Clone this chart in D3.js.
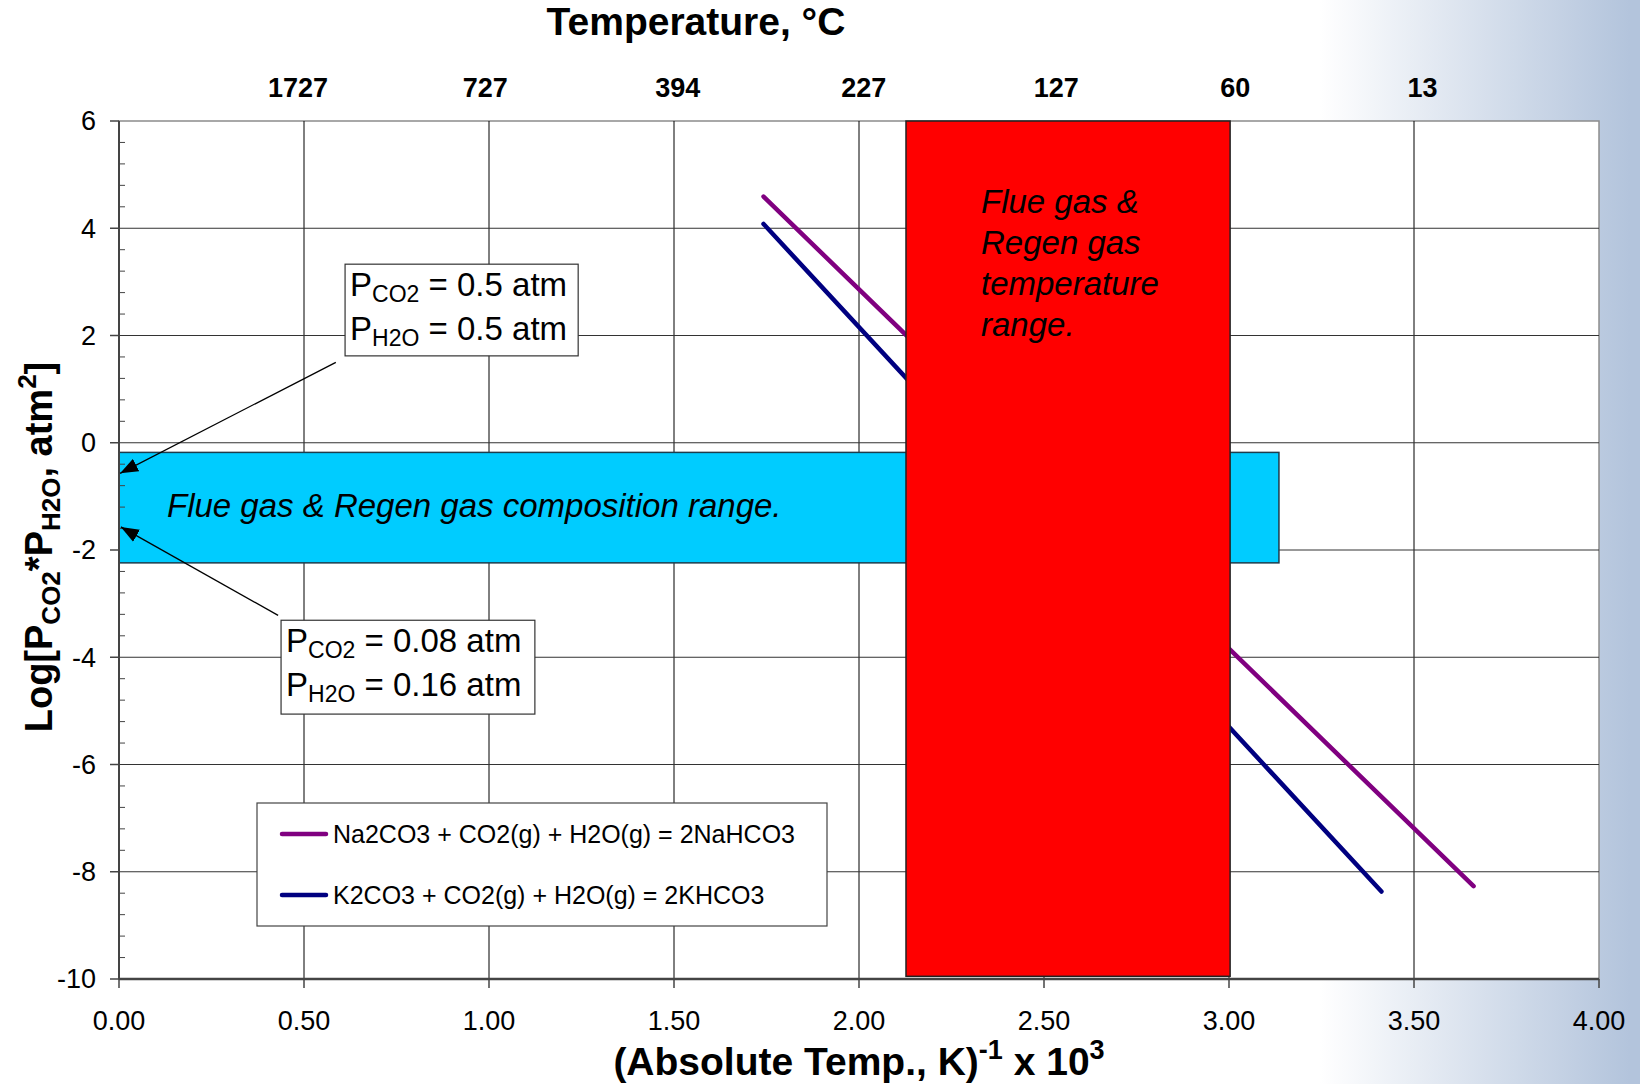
<!DOCTYPE html>
<html>
<head>
<meta charset="utf-8">
<script src="https://cdn.jsdelivr.net/npm/d3@7"></script>
<style>
  html, body { margin: 0; padding: 0; background: #fff; }
  svg { display: block; font-family: "Liberation Sans", Arial, sans-serif; }
</style>
</head>
<body>
<svg id="chart" width="1640" height="1084"></svg>
<script>
// x axis: 1/T (K) x 1000, y axis: log10(PCO2*PH2O)
var xTicks = [0, 0.5, 1, 1.5, 2, 2.5, 3, 3.5, 4];
var yTicks = [-10, -8, -6, -4, -2, 0, 2, 4, 6];

// top axis, temperature in degrees C, with label positions
var tempLabels = ["1727", "727", "394", "227", "127", "60", "13"];
var tempPos = [0.484, 0.99, 1.51, 2.013, 2.533, 3.017, 3.523];

// equilibrium lines (end points)
var seriesNames = ["Na2CO3 + CO2(g) + H2O(g) = 2NaHCO3", "K2CO3 + CO2(g) + H2O(g) = 2KHCO3"];
var seriesColors = ["#800080", "#000080"];
var naLine = [{ x: 1.742, y: 4.59 }, { x: 3.661, y: -8.27 }];
var kLine = [{ x: 1.742, y: 4.08 }, { x: 3.412, y: -8.37 }];

// shaded ranges
var compRange = { x0: 0, x1: 3.135, y0: -0.18, y1: -2.24 };
var tempRange = { x0: 2.127, x1: 3.003, y0: 6, y1: -9.95 };

var width = 1640, height = 1084;
var margin = { left: 119, right: 41, top: 121, bottom: 105 };

var x = d3.scaleLinear().domain([0, 4]).range([margin.left, width - margin.right]);
var y = d3.scaleLinear().domain([-10, 6]).range([height - margin.bottom, margin.top]);

var svg = d3.select("#chart");

// background gradient at the right
var defs = svg.append("defs");
var grad = defs.append("linearGradient")
  .attr("id", "bg")
  .attr("gradientUnits", "userSpaceOnUse")
  .attr("x1", 1320).attr("x2", 1630).attr("y1", 0).attr("y2", 0);
grad.append("stop").attr("offset", 0).attr("stop-color", "#ffffff");
grad.append("stop").attr("offset", 1).attr("stop-color", "#b3c4dc");

svg.append("rect").attr("width", width).attr("height", height).attr("fill", "url(#bg)");

// plot area
svg.append("rect")
  .attr("x", x(0)).attr("y", y(6))
  .attr("width", x(4) - x(0)).attr("height", y(-10) - y(6))
  .attr("fill", "#fff")
  .attr("stroke", "#8c8c8c")
  .attr("stroke-width", 1.5);

// grid
var grid = svg.append("g").attr("class", "grid");
grid.selectAll(".vgrid")
  .data(xTicks.filter(function(d) { return d > 0 && d < 4; }))
  .enter().append("line")
  .attr("x1", function(d) { return x(d); }).attr("x2", function(d) { return x(d); })
  .attr("y1", y(6)).attr("y2", y(-10))
  .attr("stroke", "#000").attr("stroke-width", 1);
grid.selectAll(".hgrid")
  .data(yTicks.filter(function(d) { return d > -10 && d < 6; }))
  .enter().append("line")
  .attr("x1", x(0)).attr("x2", x(4))
  .attr("y1", function(d) { return y(d); }).attr("y2", function(d) { return y(d); })
  .attr("stroke", "#333").attr("stroke-width", 1);

// equilibrium lines
var line = d3.line()
  .x(function(d) { return x(d.x); })
  .y(function(d) { return y(d.y); });

svg.selectAll(".series")
  .data([naLine, kLine])
  .enter().append("path")
  .attr("d", line)
  .attr("fill", "none")
  .attr("stroke", function(d, i) { return seriesColors[i]; })
  .attr("stroke-width", 4.5)
  .attr("stroke-linecap", "round");

// composition range (cyan)
svg.append("rect")
  .attr("x", x(compRange.x0)).attr("y", y(compRange.y0))
  .attr("width", x(compRange.x1) - x(compRange.x0))
  .attr("height", y(compRange.y1) - y(compRange.y0))
  .attr("fill", "#00ccff")
  .attr("stroke", "#1d3d4d").attr("stroke-width", 1.5);

svg.append("text")
  .attr("x", 167).attr("y", 517)
  .attr("font-size", 33).attr("font-style", "italic")
  .text("Flue gas & Regen gas composition range.");

// temperature range (red)
svg.append("rect")
  .attr("x", x(tempRange.x0)).attr("y", y(tempRange.y0))
  .attr("width", x(tempRange.x1) - x(tempRange.x0))
  .attr("height", y(tempRange.y1) - y(tempRange.y0))
  .attr("fill", "#ff0000")
  .attr("stroke", "#222").attr("stroke-width", 1.5);

var redText = svg.append("text")
  .attr("font-size", 33).attr("font-style", "italic");
["Flue gas &", "Regen gas", "temperature", "range."].forEach(function(t, i) {
  redText.append("tspan").attr("x", 981).attr("y", 213 + i * 41).text(t);
});

// y axis
var yAxis = svg.append("g");
yAxis.append("line")
  .attr("x1", x(0)).attr("x2", x(0)).attr("y1", y(6)).attr("y2", y(-10))
  .attr("stroke", "#444").attr("stroke-width", 2);
yAxis.selectAll(".ytick")
  .data(yTicks).enter().append("line")
  .attr("x1", x(0) - 9).attr("x2", x(0))
  .attr("y1", function(d) { return y(d); }).attr("y2", function(d) { return y(d); })
  .attr("stroke", "#444").attr("stroke-width", 1.5);
yAxis.selectAll(".yminor")
  .data(d3.range(-10, 6, 0.4).filter(function(d) { return Math.abs(d / 2 - Math.round(d / 2)) > 0.01; }))
  .enter().append("line")
  .attr("x1", x(0)).attr("x2", x(0) + 6)
  .attr("y1", function(d) { return y(d); }).attr("y2", function(d) { return y(d); })
  .attr("stroke", "#444").attr("stroke-width", 1);
yAxis.selectAll(".ylabel")
  .data(yTicks).enter().append("text")
  .attr("x", 96).attr("y", function(d) { return y(d); })
  .attr("dy", "0.35em")
  .attr("text-anchor", "end")
  .attr("font-size", 27)
  .text(function(d) { return d; });

// x axis
var xAxis = svg.append("g");
xAxis.append("line")
  .attr("x1", x(0)).attr("x2", x(4)).attr("y1", y(-10)).attr("y2", y(-10))
  .attr("stroke", "#444").attr("stroke-width", 2.5);
xAxis.selectAll(".xtick")
  .data(xTicks).enter().append("line")
  .attr("x1", function(d) { return x(d); }).attr("x2", function(d) { return x(d); })
  .attr("y1", y(-10)).attr("y2", y(-10) + 9)
  .attr("stroke", "#444").attr("stroke-width", 1.5);
xAxis.selectAll(".xlabel")
  .data(xTicks).enter().append("text")
  .attr("x", function(d) { return x(d); }).attr("y", 1030)
  .attr("text-anchor", "middle")
  .attr("font-size", 27)
  .text(function(d) { return d3.format(".2f")(d); });

// top temperature labels
svg.selectAll(".tlabel")
  .data(tempLabels).enter().append("text")
  .attr("x", function(d, i) { return x(tempPos[i]); }).attr("y", 97)
  .attr("text-anchor", "middle")
  .attr("font-size", 27).attr("font-weight", "bold")
  .text(function(d) { return d; });

// titles
svg.append("text")
  .attr("x", 696).attr("y", 35)
  .attr("text-anchor", "middle")
  .attr("font-size", 39).attr("font-weight", "bold")
  .text("Temperature, °C");

var xt = svg.append("text")
  .attr("x", 859).attr("y", 1075)
  .attr("text-anchor", "middle")
  .attr("font-size", 39).attr("font-weight", "bold");
xt.append("tspan").text("(Absolute Temp., K)");
xt.append("tspan").attr("font-size", 27).attr("dy", -16).text("-1");
xt.append("tspan").attr("dy", 16).text(" x 10");
xt.append("tspan").attr("font-size", 27).attr("dy", -16).text("3");

var yt = svg.append("text")
  .attr("transform", "translate(52,547) rotate(-90)")
  .attr("text-anchor", "middle")
  .attr("font-size", 38).attr("font-weight", "bold");
yt.append("tspan").text("Log[P");
yt.append("tspan").attr("font-size", 26).attr("dy", 8).text("CO2");
yt.append("tspan").attr("dy", -8).text("*P");
yt.append("tspan").attr("font-size", 26).attr("dy", 8).text("H2O");
yt.append("tspan").attr("dy", -8).text(", atm");
yt.append("tspan").attr("font-size", 26).attr("dy", -16).text("2");
yt.append("tspan").attr("dy", 16).text("]");

// legend
var legend = svg.append("g");
legend.append("rect")
  .attr("x", 257).attr("y", 803).attr("width", 570).attr("height", 123)
  .attr("fill", "#fff").attr("stroke", "#444").attr("stroke-width", 1.2);
var li = legend.selectAll(".item")
  .data(seriesNames).enter().append("g")
  .attr("transform", function(d, i) { return "translate(0," + (834 + i * 61) + ")"; });
li.append("line")
  .attr("x1", 282).attr("x2", 326)
  .attr("stroke", function(d, i) { return seriesColors[i]; })
  .attr("stroke-width", 4.5).attr("stroke-linecap", "round");
li.append("text")
  .attr("x", 333).attr("dy", "0.36em")
  .attr("font-size", 25)
  .text(function(d) { return d; });

// pressure annotations
defs.append("marker")
  .attr("id", "arrow")
  .attr("viewBox", "0 0 10 10")
  .attr("refX", 10).attr("refY", 5)
  .attr("markerWidth", 18).attr("markerHeight", 14)
  .attr("markerUnits", "userSpaceOnUse")
  .attr("orient", "auto")
  .attr("preserveAspectRatio", "none")
  .append("path").attr("d", "M0,0L10,5L0,10z").attr("fill", "#000");

var notes = [
  { box: [0.611, 3.33, 1.241, 1.62], from: [0.586, 1.50], to: [0.003, -0.57], co2: "0.5", h2o: "0.5" },
  { box: [0.438, -3.31, 1.124, -5.06], from: [0.43, -3.22], to: [0.005, -1.57], co2: "0.08", h2o: "0.16" }
];

notes.forEach(function(n) {
  svg.append("line")
    .attr("x1", x(n.from[0])).attr("y1", y(n.from[1]))
    .attr("x2", x(n.to[0])).attr("y2", y(n.to[1]))
    .attr("stroke", "#000").attr("stroke-width", 1.3)
    .attr("marker-end", "url(#arrow)");
  var bx = x(n.box[0]), by = y(n.box[1]);
  svg.append("rect")
    .attr("x", bx).attr("y", by)
    .attr("width", x(n.box[2]) - bx).attr("height", y(n.box[3]) - by)
    .attr("fill", "#fff").attr("stroke", "#333").attr("stroke-width", 1.2);
  [["CO2", n.co2], ["H2O", n.h2o]].forEach(function(p, i) {
    var t = svg.append("text")
      .attr("x", bx + 5).attr("y", by + 32 + i * 44)
      .attr("font-size", 33);
    t.append("tspan").text("P");
    t.append("tspan").attr("font-size", 23).attr("dy", 6).text(p[0]);
    t.append("tspan").attr("dy", -6).text(" = " + p[1] + " atm");
  });
});
</script>
</body>
</html>
